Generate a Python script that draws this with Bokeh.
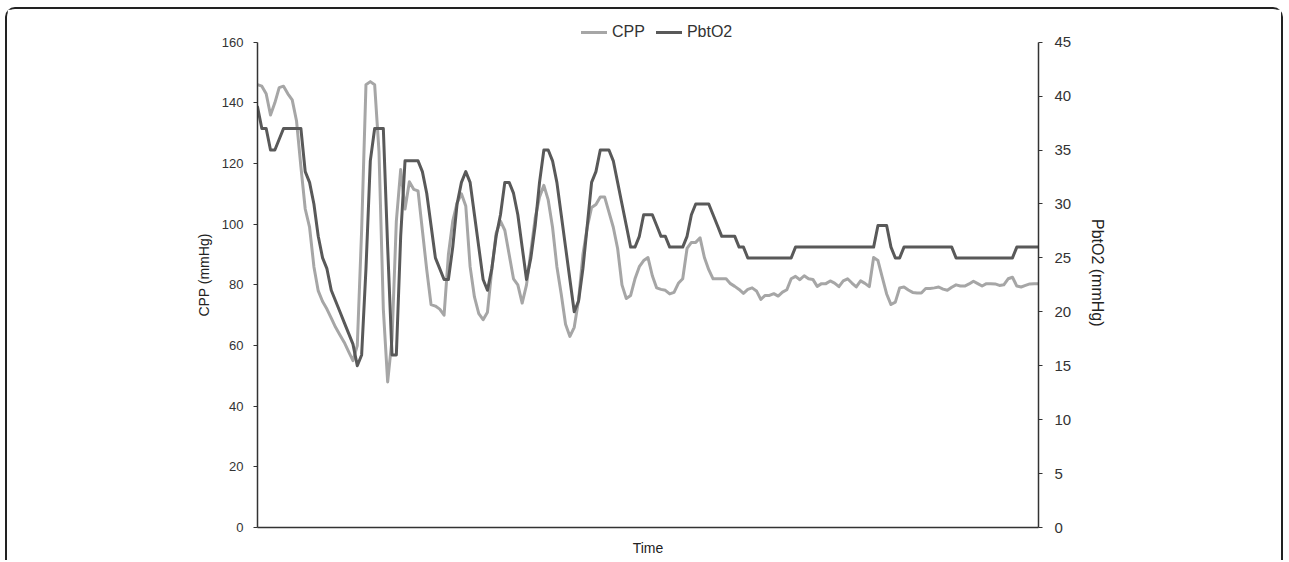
from bokeh.plotting import figure
from bokeh.models import Range1d, LinearAxis, FixedTicker, Legend, LegendItem
from bokeh.embed import file_html
from bokeh.resources import INLINE

# ---------------- data ----------------
time_idx = list(range(181))

cpp = [
    146, 145.5, 143, 136, 140, 145, 145.5, 143, 141, 134,
    119, 105, 99, 86, 78, 74.5, 72, 69, 66, 63.5,
    61, 58, 55, 60, 98, 146, 147, 146, 124, 72,
    48, 62, 101, 118, 105, 114, 111.5, 111, 98, 85,
    73.5, 73, 72, 70, 90, 101, 107, 110, 106, 86,
    76, 70.5, 68.5, 71, 85, 97, 101, 98, 90, 82,
    80, 74, 80, 91, 102, 109, 112.8, 108, 99, 86,
    77, 67, 63, 66, 75, 90, 99, 105.5, 106.5, 109,
    109, 104, 99, 92, 80, 75.5, 76.5, 82, 86, 88,
    89, 83, 79, 78.5, 78.2, 77, 77.5, 80.5, 82, 92,
    94, 94, 95.5, 89, 85, 82, 82, 82, 82, 80.4,
    79.5, 78.5, 77.2, 78.5, 79, 78, 75.2, 76.5, 76.5, 77.1,
    76.3, 77.6, 78.4, 82, 82.8, 81.7, 83, 82, 81.8, 79.5,
    80.4, 80.4, 81.3, 80.6, 79.4, 81.3, 82, 80.6, 79.3, 81.3,
    80.5, 79.4, 89, 88, 82.5, 77, 73.5, 74.3, 79, 79.3,
    78.3, 77.5, 77.3, 77.3, 78.8, 78.8, 79, 79.3, 78.6, 78.2,
    79.2, 80, 79.6, 79.6, 80.3, 81.2, 80.4, 79.6, 80.4, 80.4,
    80.3, 79.8, 80, 82, 82.5, 79.6, 79.3, 79.8, 80.3, 80.4,
    80.4,
]

pbto2 = [
    39, 37, 37, 35, 35, 36, 37, 37, 37, 37,
    37, 33, 32, 30, 27, 25, 24, 22, 21, 20,
    19, 18, 17, 15, 16, 24, 34, 37, 37, 37,
    26, 16, 16, 27, 34, 34, 34, 34, 33, 31,
    28, 25, 24, 23, 23, 26, 30, 32, 33, 32,
    29, 26, 23, 22, 24, 27, 29, 32, 32, 31,
    29, 26, 23, 25, 28, 32, 35, 35, 34, 32,
    29, 26, 23, 20, 21, 24, 28, 32, 33, 35,
    35, 35, 34, 32, 30, 28, 26, 26, 27, 29,
    29, 29, 28, 27, 27, 26, 26, 26, 26, 27,
    29, 30, 30, 30, 30, 29, 28, 27, 27, 27,
    27, 26, 26, 25, 25, 25, 25, 25, 25, 25,
    25, 25, 25, 25, 26, 26, 26, 26, 26, 26,
    26, 26, 26, 26, 26, 26, 26, 26, 26, 26,
    26, 26, 26, 28, 28, 28, 26, 25, 25, 26,
    26, 26, 26, 26, 26, 26, 26, 26, 26, 26,
    26, 25, 25, 25, 25, 25, 25, 25, 25, 25,
    25, 25, 25, 25, 25, 26, 26, 26, 26, 26,
    26,
]

cpp_ticks = [0, 20, 40, 60, 80, 100, 120, 140, 160]
pbto2_ticks = [0, 5, 10, 15, 20, 25, 30, 35, 40, 45]
CPP_MAX = 160
PBT_MAX = 45

# ---------------- figure ----------------
FONT = "Liberation Sans"
AX = "#333333"

FRAME_H = 505
AXIS_PX = 485.3                     # pixel height of the 0..max axis span
top_cpp = CPP_MAX * FRAME_H / AXIS_PX   # headroom above the axis for the legend
top_pbt = top_cpp * PBT_MAX / CPP_MAX

p = figure(width=1278, height=553, output_backend="svg", toolbar_location=None,
           x_range=Range1d(0, len(time_idx) - 1), y_range=Range1d(0, top_cpp),
           min_border_left=250, min_border_right=247, min_border_top=13,
           min_border_bottom=35)
p.styles = {"margin": "7px 0 0 5px",
            "border-top": "2px solid #222", "border-left": "2px solid #222",
            "border-right": "2px solid #222", "border-radius": "10px 10px 0 0"}
p.outline_line_color = None
p.grid.visible = False
p.background_fill_color = "white"
p.border_fill_color = "white"

p.extra_y_ranges = {"pbt": Range1d(0, top_pbt)}

r_cpp = p.line(time_idx, cpp, line_color="#a6a6a6", line_width=3,
               line_join="round", line_cap="round")
r_pbt = p.line(time_idx, pbto2, line_color="#595959", line_width=3,
               line_join="round", line_cap="round", y_range_name="pbt")

# x axis
xa = p.xaxis[0]
xa.ticker = FixedTicker(ticks=[])
xa.axis_label = "Time"
xa.axis_label_text_font = FONT
xa.axis_label_text_font_size = "14px"
xa.axis_label_text_font_style = "normal"
xa.axis_label_text_color = "#222222"
xa.axis_label_standoff = 12
xa.axis_line_color = AX
xa.axis_line_width = 1.5
xa.major_tick_line_color = None
xa.minor_tick_line_color = None

# left axis
ya = p.yaxis[0]
ya.ticker = FixedTicker(ticks=cpp_ticks)
ya.bounds = (0, CPP_MAX)
ya.axis_label = "CPP (mmHg)"
ya.axis_label_text_font = FONT
ya.axis_label_text_font_size = "14px"
ya.axis_label_text_font_style = "normal"
ya.axis_label_text_color = "#222222"
ya.axis_label_standoff = 7
ya.major_label_text_font = FONT
ya.major_label_text_font_size = "13px"
ya.major_label_text_color = "#333333"
ya.major_label_standoff = 10
ya.major_tick_in = 0
ya.major_tick_out = 4
ya.minor_tick_line_color = None
ya.axis_line_color = AX
ya.axis_line_width = 1.5
ya.major_tick_line_color = AX

# right axis
ra = LinearAxis(y_range_name="pbt", ticker=FixedTicker(ticks=pbto2_ticks),
                bounds=(0, PBT_MAX))
ra.axis_label = "PbtO2  (mmHg)"
ra.axis_label_text_font = FONT
ra.axis_label_text_font_size = "16px"
ra.axis_label_text_font_style = "normal"
ra.axis_label_text_color = "#222222"
ra.axis_label_standoff = 15
ra.major_label_text_font = FONT
ra.major_label_text_font_size = "15px"
ra.major_label_text_color = "#333333"
ra.major_label_standoff = 12
ra.major_tick_in = 0
ra.major_tick_out = 4
ra.minor_tick_line_color = None
ra.axis_line_color = AX
ra.axis_line_width = 1.5
ra.major_tick_line_color = AX
p.add_layout(ra, "right")

legend = Legend(items=[LegendItem(label="CPP", renderers=[r_cpp]),
                       LegendItem(label="PbtO2", renderers=[r_pbt])],
                orientation="horizontal", location=(324, 485),
                glyph_width=26, glyph_height=20, label_height=20,
                label_standoff=5, spacing=11, padding=0, margin=0,
                label_text_font=FONT, label_text_font_size="16px",
                label_text_color="#333333",
                border_line_color=None, background_fill_alpha=0)
p.add_layout(legend, "center")

open("out.html", "w").write(file_html(p, INLINE))
